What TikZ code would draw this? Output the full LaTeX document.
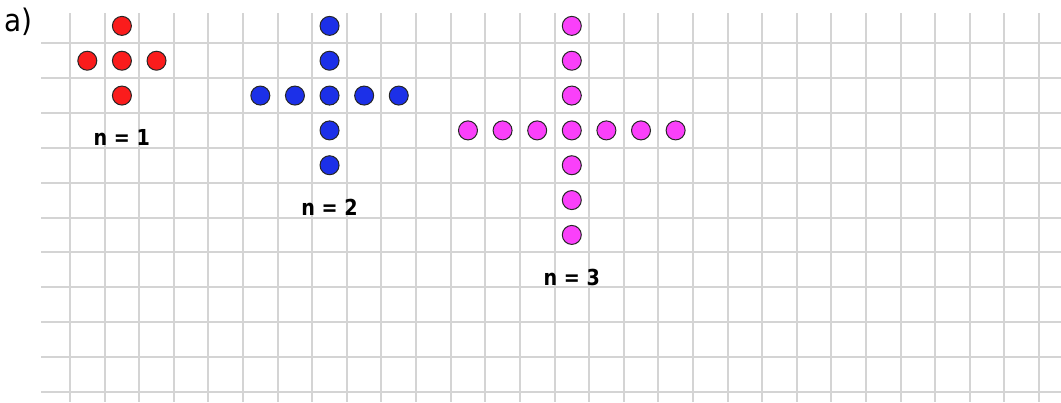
\documentclass[tikz,border=0pt]{standalone}
\usepackage{fontspec}
\newfontfamily\labfont{DejaVu Sans}
\definecolor{gridgray}{RGB}{212,212,212}
\definecolor{dotred}{RGB}{250,28,28}
\definecolor{dotblue}{RGB}{28,48,232}
\definecolor{dotmag}{RGB}{250,64,250}
\begin{document}
\begin{tikzpicture}[x=1pt,y=-1pt,
  gridline/.style={draw=gridgray,line width=2pt},
  dot/.style={circle,draw=black!85,line width=1pt,minimum size=19pt,inner sep=0pt},
  reddot/.style={dot,fill=dotred},
  bluedot/.style={dot,fill=dotblue},
  magdot/.style={dot,fill=dotmag},
  lab/.style={font=\labfont\bfseries\fontsize{22}{22}\selectfont,anchor=base,inner sep=0pt,xscale=0.87},
  part/.style={font=\labfont\fontsize{31}{31}\selectfont,anchor=base west,inner sep=0pt,xscale=0.9}]
\useasboundingbox (0,0) rectangle (1061,402);
% grid
\foreach \i in {0,...,28}
  \draw[gridline] ({70+34.607*\i},13) -- ({70+34.607*\i},402);
\foreach \j in {0,...,10}
  \draw[gridline] (41,{43.3+34.84*\j}) -- (1061,{43.3+34.84*\j});
% part label
\node[part] (parta) at (4,31.5) {a)};
% dots: cell (c,r) centre
\begin{scope}[x=34.607pt,y=-34.84pt,shift={(87.3pt,-25.88pt)}]
  % n = 1
  \node[reddot] (r1) at (1,0) {};
  \node[reddot] (r2) at (0,1) {};
  \node[reddot] (r3) at (1,1) {};
  \node[reddot] (r4) at (2,1) {};
  \node[reddot] (r5) at (1,2) {};
  % n = 2
  \foreach \r in {0,1,3,4} \node[bluedot] (bv\r) at (7,\r) {};
  \foreach \c in {5,...,9} \node[bluedot] (bh\c) at (\c,2) {};
  % n = 3
  \foreach \r in {0,1,2,4,5,6} \node[magdot] (mv\r) at (14,\r) {};
  \foreach \c in {11,...,17} \node[magdot] (mh\c) at (\c,3) {};
\end{scope}
% labels
\node[lab] (l1) at (121.7,145.6) {n = 1};
\node[lab] (l2) at (329.5,215.3) {n = 2};
\node[lab] (l3) at (571.7,285.0) {n = 3};
\end{tikzpicture}
\end{document}
